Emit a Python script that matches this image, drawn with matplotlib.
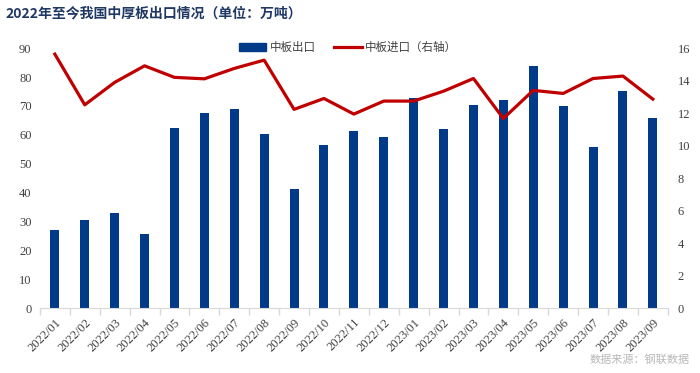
import matplotlib
matplotlib.use("Agg")
import matplotlib.pyplot as plt
import numpy as np
from matplotlib.lines import Line2D
from matplotlib.patches import Patch

months = ["2022/01", "2022/02", "2022/03", "2022/04", "2022/05", "2022/06", "2022/07",
          "2022/08", "2022/09", "2022/10", "2022/11", "2022/12", "2023/01", "2023/02",
          "2023/03", "2023/04", "2023/05", "2023/06", "2023/07", "2023/08", "2023/09"]
export_vals = [27.0, 30.5, 32.9, 25.7, 62.3, 67.4, 69.0, 60.2, 41.2, 56.3, 61.4,
               59.3, 72.9, 62.0, 70.3, 71.9, 83.7, 69.9, 55.6, 75.0, 65.9]
import_vals = [15.63, 12.51, 13.89, 14.91, 14.20, 14.11, 14.75, 15.26, 12.23, 12.90, 11.94,
               12.74, 12.74, 13.35, 14.13, 11.67, 13.40, 13.21, 14.13, 14.28, 12.86]

plt.rcParams['font.family'] = ['Noto Sans CJK SC', 'DejaVu Sans']

fig = plt.figure(figsize=(7.0, 3.73), dpi=100)
ax = fig.add_axes([0.057, 0.174, 0.897, 0.697])
ax2 = ax.twinx()

x = np.arange(len(months))
bar_color = "#023A8A"
line_color = "#C00000"
ax.bar(x, export_vals, width=0.3, color=bar_color, zorder=2)
ax2.plot(x, import_vals, color=line_color, lw=2.3, zorder=3)

ax.set_xlim(-0.5, len(months) - 0.5)
ax.set_ylim(0, 90)
ax2.set_ylim(0, 16)
ax.set_yticks(np.arange(0, 91, 10))
ax2.set_yticks(np.arange(0, 17, 2))

ax.set_xticks(x)
ax.set_xticklabels(months, rotation=45, ha='right', rotation_mode='anchor',
                   fontfamily='Liberation Serif', fontsize=9, color='#404040')
ax.set_xticks(np.arange(-0.5, len(months), 1), minor=True)
ax.tick_params(axis='x', which='major', length=0, pad=6)
ax.tick_params(axis='x', which='minor', length=5, color='#D9D9D9', width=1)

for a in (ax, ax2):
    for s in a.spines.values():
        s.set_visible(False)
ax.spines['bottom'].set_visible(True)
ax.spines['bottom'].set_color('#D9D9D9')

ax.tick_params(axis='y', length=0, pad=6)
ax2.tick_params(axis='y', length=0, pad=7)
for lab in ax.get_yticklabels() + ax2.get_yticklabels():
    lab.set_fontfamily('Liberation Serif')
    lab.set_fontsize(9)
    lab.set_color('#404040')

handles = [Patch(color=bar_color, label='中板出口'),
           Line2D([0], [0], color=line_color, lw=2.3, label='中板进口（右轴）')]
fig.legend(handles=handles, loc='center', bbox_to_anchor=(0.497, 0.873), ncol=2,
           frameon=False, fontsize=8.3, handlelength=2.4, columnspacing=1.6,
           labelcolor='#404040', handletextpad=0.3)

fig.text(0.008, 0.965, '2022年至今我国中厚板出口情况（单位：万吨）', fontsize=10,
         fontweight='bold', color='#1F3864', va='center', ha='left')
fig.text(0.985, 0.035, '数据来源：钢联数据', fontsize=8, color='#B8B8B8',
         va='center', ha='right')

fig.savefig('out.png', dpi=100)
